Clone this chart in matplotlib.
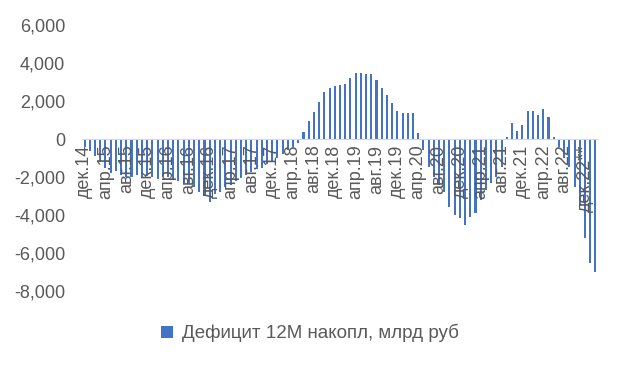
import numpy as np
import matplotlib
matplotlib.use('Agg')
import matplotlib.pyplot as plt
from matplotlib.ticker import FuncFormatter

plt.rcParams['font.family'] = ['Liberation Sans', 'DejaVu Sans']

# Monthly 12M cumulative deficit, bn rub (Dec 2014 .. Feb 2023)
deficit = [
    -400, -650, -900, -1200, -1500, -1800, -1700, -1900, -2000, -2000, -1900, -2000,
    -1950, -2000, -2100, -2000, -2000, -2100, -2200, -2300, -2300, -2500, -2800, -3000,
    -3300, -2900, -2800, -2500, -2400, -2200, -2050, -1900, -1750, -1600, -1500, -1300,
    -1200, -1000, -800, -600, -400, -200, 370, 950, 1400, 1950, 2500, 2700,
    2800, 2850, 2900, 3230, 3460, 3490, 3400, 3400, 3100, 2700, 2300, 1880,
    1470, 1350, 1350, 1350, 300, -580, -1470, -2000, -2400, -2800, -3600, -4000,
    -4150, -4530, -4100, -3900, -3200, -2700, -2300, -2000, -1470, 100, 840, 440,
    740, 1470, 1470, 1260, 1560, 1140, 100, -400, -1000, -1450, -2500, -3500,
    -5200, -6500, -7000,
]

# every 4th month is labelled
tick_labels = [
    'дек.14', 'апр.15', 'авг.15', 'дек.15', 'апр.16', 'авг.16', 'дек.16',
    'апр.17', 'авг.17', 'дек.17', 'апр.18', 'авг.18', 'дек.18', 'апр.19',
    'авг.19', 'дек.19', 'апр.20', 'авг.20', 'дек.20', 'апр.21', 'авг.21',
    'дек.21', 'апр.22', 'авг.22', 'дек.22**',
]

bar_color = '#4472C4'
text_color = '#595959'

fig = plt.figure(figsize=(6.2, 3.67), dpi=100)
ax = fig.add_axes([82 / 620, 1 - 291 / 367, 516 / 620, 266 / 367])

x = np.arange(len(deficit))
ax.bar(x, deficit, width=0.4, color=bar_color, label='Дефицит 12M накопл, млрд руб')

# category axis crosses at zero
for s in ['top', 'right', 'left']:
    ax.spines[s].set_visible(False)
ax.spines['bottom'].set_position(('data', 0))
ax.spines['bottom'].set_color('#D9D9D9')
ax.spines['bottom'].set_linewidth(0.8)

ax.set_xlim(-0.5, len(deficit) - 0.5)
ax.set_ylim(-8000, 6000)
ax.set_yticks(np.arange(-8000, 6001, 2000))
ax.yaxis.set_major_formatter(FuncFormatter(lambda v, p: f'{int(v):,}'))

ax.set_xticks(x[::4])
ax.set_xticklabels(tick_labels)

ax.tick_params(axis='y', length=0, pad=12, labelsize=13, labelcolor=text_color)
ax.tick_params(axis='x', length=0, pad=4, labelsize=13, labelcolor=text_color,
               labelrotation=90)
for t in ax.get_xticklabels():
    t.set_ha('center')
    t.set_va('top')

leg = fig.legend(loc='center', bbox_to_anchor=(0.5, 1 - 333 / 367), frameon=False,
                 fontsize=13.5, handlelength=0.6, handleheight=0.6, handletextpad=0.5)
for t in leg.get_texts():
    t.set_color(text_color)

fig.savefig('out.png', dpi=100)
